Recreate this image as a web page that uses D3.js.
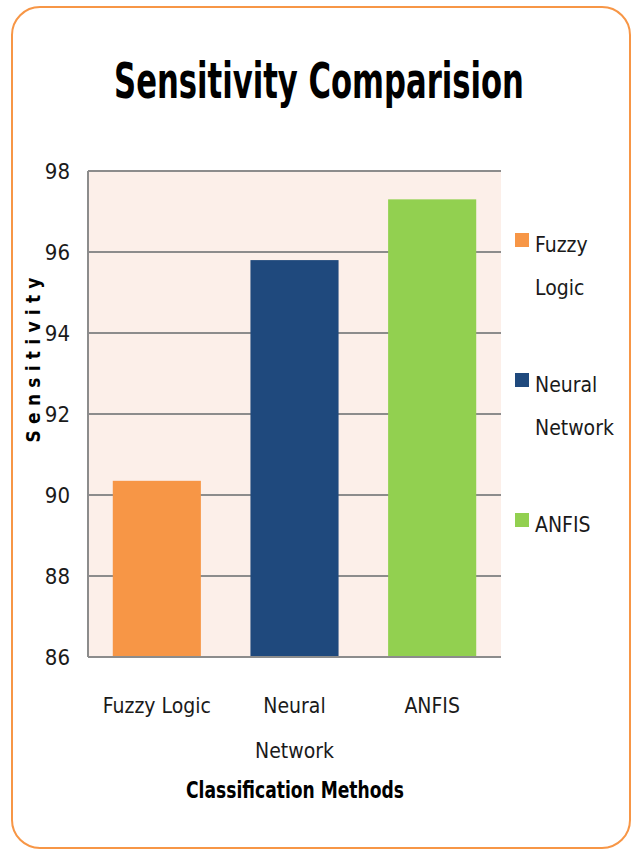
<!DOCTYPE html>
<html>
<head>
<meta charset="utf-8">
<script src="https://cdn.jsdelivr.net/npm/d3@7"></script>
<style>
  body { margin: 0; background: #fff; }
  svg { display: block; }
  text { font-family: "DejaVu Sans Condensed", "Liberation Sans Narrow", "Open Sans", sans-serif; }
</style>
</head>
<body>
<svg id="chart" width="633" height="852"></svg>
<script>
// données
const methods = ["Fuzzy Logic", "Neural Network", "ANFIS"];
const sensitivity = [90.35, 95.8, 97.3];
const colors = ["#f79646", "#1f497d", "#92d050"];
const yTicks = [86, 88, 90, 92, 94, 96, 98];
const xLabels = [["Fuzzy Logic"], ["Neural", "Network"], ["ANFIS"]];
const legendLabels = [["Fuzzy", "Logic"], ["Neural", "Network"], ["ANFIS"]];

const svg = d3.select("#chart");

// cadre arrondi orange
svg.append("rect")
  .attr("x", 12).attr("y", 7)
  .attr("width", 618).attr("height", 841)
  .attr("rx", 28).attr("ry", 28)
  .attr("fill", "#fff")
  .attr("stroke", "#f79646")
  .attr("stroke-width", 2);

const margin = { top: 171, left: 88, right: 132, bottom: 195 };
const width = 633 - margin.left - margin.right;
const height = 852 - margin.top - margin.bottom;

const g = svg.append("g").attr("transform", `translate(${margin.left},${margin.top})`);

const x = d3.scaleBand()
  .domain(methods)
  .range([0, width])
  .paddingInner(0.36)
  .paddingOuter(0.18);

const y = d3.scaleLinear()
  .domain([86, 98])
  .range([height, 0]);

// fond de la zone de tracé
g.append("rect")
  .attr("width", width).attr("height", height)
  .attr("fill", "#fcefe9");

// lignes de grille
g.selectAll(".grid")
  .data(yTicks)
  .enter().append("line")
  .attr("x1", 0).attr("x2", width)
  .attr("y1", d => y(d)).attr("y2", d => y(d))
  .attr("stroke", "#8c8c8c")
  .attr("stroke-width", 2);

// axe gauche
g.append("line")
  .attr("x1", 0).attr("x2", 0)
  .attr("y1", 0).attr("y2", height)
  .attr("stroke", "#8c8c8c")
  .attr("stroke-width", 2);

// barres
g.selectAll(".bar")
  .data(methods)
  .enter().append("rect")
  .attr("x", d => x(d))
  .attr("y", (d, i) => y(sensitivity[i]))
  .attr("width", x.bandwidth())
  .attr("height", (d, i) => y(86) - y(sensitivity[i]))
  .attr("fill", (d, i) => colors[i]);

// ligne du bas par-dessus
g.append("line")
  .attr("x1", 0).attr("x2", width)
  .attr("y1", height).attr("y2", height)
  .attr("stroke", "#8c8c8c")
  .attr("stroke-width", 2);

// étiquettes de l'axe y
const yAxis = g.append("g")
  .call(d3.axisLeft(y).tickValues(yTicks).tickSize(0).tickPadding(18));
yAxis.select(".domain").remove();
yAxis.selectAll("text")
  .style("font-size", "22px")
  .style("font-family", "'DejaVu Sans Condensed', sans-serif")
  .attr("fill", "#1a1a1a");

// étiquettes de l'axe x
methods.forEach((m, i) => {
  const t = g.append("text")
    .attr("x", x(m) + x.bandwidth() / 2)
    .attr("y", height + 56)
    .attr("text-anchor", "middle")
    .style("font-size", "21px")
    .attr("fill", "#1a1a1a");
  xLabels[i].forEach((line, j) => {
    t.append("tspan")
      .attr("x", x(m) + x.bandwidth() / 2)
      .attr("dy", j === 0 ? 0 : 45)
      .text(line);
  });
});

// titre : police étroite, on compresse horizontalement pour tenir ~410px
const title = svg.append("text")
  .attr("text-anchor", "middle")
  .style("font-size", "50px")
  .style("font-weight", "bold")
  .attr("fill", "#000")
  .text("Sensitivity Comparision");
const sx = 410 / title.node().getComputedTextLength();
title.attr("transform", `translate(319,98) scale(${sx},1)`);

// titre de l'axe x
svg.append("text")
  .attr("x", 295).attr("y", 798)
  .attr("text-anchor", "middle")
  .attr("textLength", 218)
  .attr("lengthAdjust", "spacingAndGlyphs")
  .style("font-size", "23px")
  .style("font-weight", "bold")
  .attr("fill", "#000")
  .text("Classification  Methods");

// titre de l'axe y
svg.append("text")
  .attr("transform", "translate(40,360) rotate(-90)")
  .attr("text-anchor", "middle")
  .attr("textLength", 165)
  .attr("lengthAdjust", "spacing")
  .style("font-size", "19px")
  .style("font-weight", "bold")
  .attr("fill", "#000")
  .text("Sensitivity");

// légende
const legendY = [233, 373, 513];
const legend = svg.append("g");
methods.forEach((m, i) => {
  legend.append("rect")
    .attr("x", 515).attr("y", legendY[i])
    .attr("width", 14).attr("height", 14)
    .attr("fill", colors[i]);
  const t = legend.append("text")
    .attr("x", 535)
    .attr("y", legendY[i] + 19)
    .style("font-size", "21px")
    .attr("fill", "#1a1a1a");
  legendLabels[i].forEach((line, j) => {
    t.append("tspan")
      .attr("x", 535)
      .attr("dy", j === 0 ? 0 : 43)
      .text(line);
  });
});
</script>
</body>
</html>
